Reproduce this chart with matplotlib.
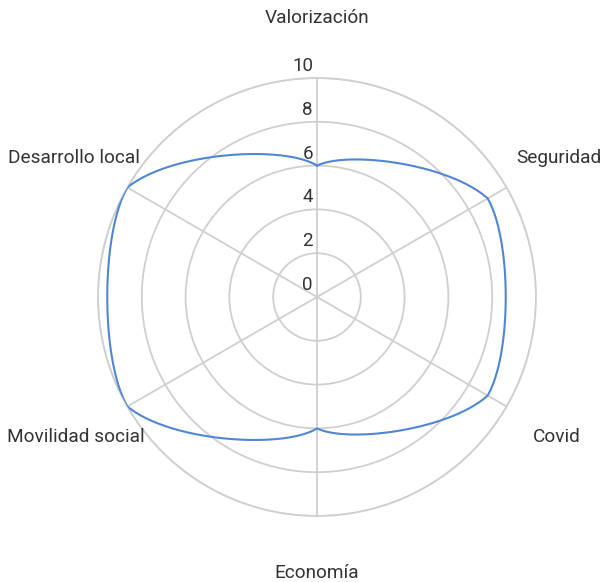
import numpy as np
import matplotlib
matplotlib.use('Agg')
import matplotlib.pyplot as plt
from matplotlib.transforms import offset_copy

plt.rcParams['font.family'] = ['Roboto', 'DejaVu Sans']

categorias = ['Valorización', 'Seguridad', 'Covid', 'Economía', 'Movilidad social', 'Desarrollo local']
valores = [6, 9, 9, 6, 10, 10]
ticks_r = [0, 2, 4, 6, 8, 10]

# posicion de las etiquetas (angulo en grados, radio, alineacion)
pos_etiquetas = [(0, 12.74, 'center'), (55.1, 11.08, 'left'), (123, 11.76, 'left'),
                 (180, 12.62, 'center'), (230.9, 10.13, 'right'), (308.1, 10.27, 'right')]

color_linea = '#4f86d6'
color_grid = '#cfcfcf'
color_texto = '#333333'


def curva_suave(vals, f=0.7, n=60):
    # curva por segmentos (bezier) que sigue el radio entre ejes
    k = len(vals)
    ang = np.arange(k) * 2 * np.pi / k
    dth = 2 * np.pi / k
    xs, ys = [], []
    for i in range(k):
        j = (i + 1) % k
        r0, r1 = vals[i], vals[j]
        t0, t1 = ang[i], ang[i] + dth
        dr = (r1 - r0) / dth
        p0 = np.array([r0 * np.sin(t0), r0 * np.cos(t0)])
        p3 = np.array([r1 * np.sin(t1), r1 * np.cos(t1)])
        d0 = dr * np.array([np.sin(t0), np.cos(t0)]) + r0 * np.array([np.cos(t0), -np.sin(t0)])
        d1 = dr * np.array([np.sin(t1), np.cos(t1)]) + r1 * np.array([np.cos(t1), -np.sin(t1)])
        p1 = p0 + f * dth / 3 * d0
        p2 = p3 - f * dth / 3 * d1
        t = np.linspace(0, 1, n)[:, None]
        pts = (1 - t) ** 3 * p0 + 3 * (1 - t) ** 2 * t * p1 + 3 * (1 - t) * t ** 2 * p2 + t ** 3 * p3
        xs.append(pts[:, 0])
        ys.append(pts[:, 1])
    x = np.concatenate(xs)
    y = np.concatenate(ys)
    th = np.unwrap(np.arctan2(x, y))
    return th, np.hypot(x, y)


fig = plt.figure(figsize=(6, 5.82), dpi=100)
ax = fig.add_axes([0.1633, 0.1134, 0.73, 0.7526], projection='polar')
ax.set_theta_zero_location('N')
ax.set_theta_direction(-1)
ax.set_ylim(0, 10)

angulos = np.arange(len(categorias)) * 2 * np.pi / len(categorias)
ax.set_xticks(angulos)
ax.set_xticklabels([])
ax.set_yticks(ticks_r[1:])
ax.set_yticklabels([])
ax.grid(True, color=color_grid, linewidth=1.3)
ax.spines['polar'].set_color(color_grid)
ax.spines['polar'].set_linewidth(1.3)
ax.tick_params(length=0)

th, r = curva_suave(valores)
ax.plot(th, r, color=color_linea, linewidth=1.5, zorder=5)

trans = offset_copy(ax.transData, fig=fig, x=-4, y=3, units='dots')
for v in ticks_r:
    ax.text(0, v, str(v), transform=trans, ha='right', va='bottom',
            fontsize=13.5, color=color_texto, clip_on=False)

for nombre, (a, rr, ha) in zip(categorias, pos_etiquetas):
    ax.text(np.deg2rad(a), rr, nombre, ha=ha, va='center', fontsize=13.7,
            color=color_texto, clip_on=False)

fig.savefig('out.png', dpi=100, facecolor='white')
